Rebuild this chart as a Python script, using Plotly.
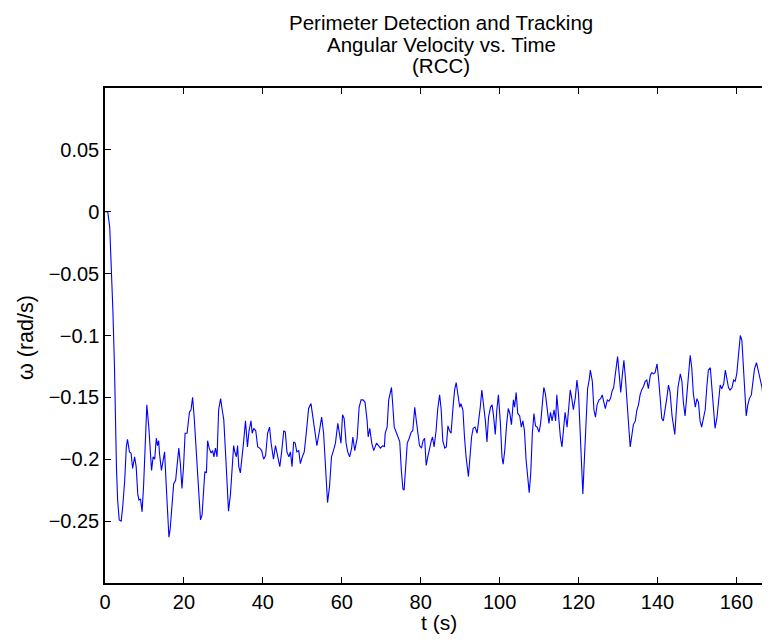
import plotly.graph_objects as go

# ---- data ----
t_s = [0.0, 0.7, 1.2, 1.6, 2.0, 2.4, 2.6, 2.9, 3.2, 3.6, 4.1, 4.5, 5.0, 5.4, 5.7, 6.2, 6.6, 7.0, 7.5, 7.9,
       8.3, 8.6, 9.0, 9.4, 9.8, 10.2, 10.6, 11.1, 11.5, 11.8, 12.2, 12.6, 13.0, 13.3, 13.6, 13.8, 14.3, 14.7, 15.1, 15.5,
       16.0, 16.2, 16.5, 17.0, 17.4, 17.9, 18.3, 18.7, 19.1, 19.5, 19.9, 20.3, 20.8, 21.0, 21.4, 21.8, 22.2, 22.6, 23.1, 23.5,
       23.8, 24.2, 24.6, 25.0, 25.3, 25.7, 26.0, 26.4, 26.9, 27.3, 27.6, 28.0, 28.4, 28.8, 29.3, 29.7, 30.1, 30.6, 31.0, 31.3,
       31.8, 32.2, 32.6, 32.9, 33.3, 33.6, 33.9, 34.3, 34.8, 35.1, 35.6, 36.1, 36.5, 37.0, 37.3, 37.7, 38.2, 38.7, 39.2, 39.7,
       40.2, 40.7, 41.2, 41.7, 42.1, 42.4, 42.7, 43.2, 43.8, 44.3, 44.8, 45.3, 45.7, 46.1, 46.6, 47.0, 47.4, 47.8, 48.2, 48.6,
       49.1, 49.5, 50.0, 50.5, 51.0, 51.6, 52.2, 52.7, 53.2, 53.7, 54.3, 54.9, 55.4, 55.9, 56.4, 56.9, 57.4, 57.9, 58.4, 59.0,
       59.5, 59.8, 60.2, 60.6, 61.1, 61.5, 62.0, 62.5, 62.8, 63.3, 63.9, 64.4, 64.9, 65.4, 65.9, 66.4, 66.7, 67.1, 67.6, 68.1,
       68.8, 69.3, 69.8, 70.4, 70.8, 71.0, 71.5, 71.9, 72.3, 72.6, 72.9, 73.3, 73.9, 74.3, 74.7, 75.1, 75.5, 75.8, 76.3, 76.6,
       77.1, 77.6, 78.0, 78.5, 78.9, 79.3, 79.7, 80.2, 80.6, 81.0, 81.4, 81.8, 82.3, 82.7, 83.0, 83.4, 83.9, 84.3, 84.8, 85.2,
       85.6, 86.1, 86.5, 86.9, 87.3, 87.7, 88.2, 88.6, 89.0, 89.4, 89.9, 90.2, 90.7, 91.1, 91.5, 92.1, 92.5, 92.9, 93.3, 93.8,
       94.3, 94.7, 95.1, 95.5, 95.9, 96.4, 96.8, 97.2, 97.7, 98.1, 98.5, 98.9, 99.3, 99.7, 100.2, 100.6, 100.9, 101.3, 101.8, 102.2,
       102.6, 103.0, 103.5, 103.8, 104.2, 104.6, 105.1, 105.5, 105.9, 106.3, 106.7, 107.2, 107.5, 107.9, 108.3, 108.7, 109.1, 109.5, 110.0, 110.4,
       110.8, 111.2, 111.6, 112.1, 112.5, 112.9, 113.3, 113.8, 114.2, 114.5, 114.9, 115.4, 115.8, 116.2, 116.6, 117.1, 117.5, 117.9, 118.3, 118.7,
       119.2, 119.6, 120.0, 120.4, 120.8, 121.1, 121.4, 121.9, 122.3, 122.7, 123.0, 123.5, 123.9, 124.3, 124.7, 125.2, 125.6, 126.0, 126.4, 126.8,
       127.3, 127.7, 128.1, 128.5, 128.9, 129.4, 129.9, 130.3, 130.7, 131.1, 131.5, 131.9, 132.3, 132.8, 133.1, 133.5, 133.9, 134.4, 134.8, 135.2,
       135.6, 136.0, 136.5, 136.9, 137.3, 137.7, 138.2, 138.6, 139.0, 139.4, 139.9, 140.3, 140.7, 141.1, 141.5, 142.0, 142.4, 142.8, 143.2, 143.7,
       144.1, 144.4, 144.8, 145.2, 145.8, 146.2, 146.6, 147.0, 147.4, 147.9, 148.3, 148.7, 149.1, 149.6, 150.0, 150.4, 150.8, 151.2, 151.7, 152.1,
       152.5, 152.9, 153.4, 153.8, 154.2, 154.6, 155.1, 155.5, 155.9, 156.3, 156.8, 157.2, 157.6, 158.0, 158.4, 158.9, 159.3, 159.7, 160.1, 160.6,
       161.0, 161.4, 161.8, 162.2, 162.5, 162.9, 163.3, 163.8, 164.2, 164.6, 165.1, 165.6, 166.0, 166.5, 166.8, 167.3, 167.7, 168.1, 168.5]

omega = [0.0, 0.0, -0.0126, -0.04, -0.08, -0.125, -0.166, -0.206, -0.233, -0.249, -0.25, -0.238, -0.217, -0.19, -0.184, -0.194, -0.195, -0.2075, -0.198, -0.206,
         -0.228, -0.233, -0.232, -0.2425, -0.22, -0.185, -0.156, -0.174, -0.201, -0.209, -0.198, -0.2, -0.183, -0.189, -0.185, -0.195, -0.209, -0.2, -0.194, -0.22,
         -0.256, -0.263, -0.257, -0.233, -0.22, -0.217, -0.206, -0.191, -0.2035, -0.2236, -0.206, -0.179, -0.179, -0.171, -0.162, -0.16, -0.15, -0.166, -0.19, -0.214,
         -0.23, -0.249, -0.245, -0.228, -0.21, -0.211, -0.185, -0.191, -0.195, -0.193, -0.198, -0.191, -0.198, -0.16, -0.151, -0.16, -0.168, -0.198, -0.225, -0.242,
         -0.228, -0.2035, -0.189, -0.194, -0.198, -0.189, -0.206, -0.211, -0.198, -0.187, -0.169, -0.19, -0.177, -0.169, -0.179, -0.175, -0.177, -0.19, -0.191, -0.193,
         -0.2, -0.197, -0.179, -0.174, -0.187, -0.194, -0.2, -0.189, -0.198, -0.206, -0.193, -0.177, -0.178, -0.194, -0.198, -0.194, -0.206, -0.186, -0.187, -0.194,
         -0.193, -0.2035, -0.198, -0.194, -0.179, -0.159, -0.155, -0.166, -0.177, -0.189, -0.178, -0.166, -0.179, -0.211, -0.235, -0.222, -0.198, -0.193, -0.187, -0.171,
         -0.183, -0.187, -0.164, -0.167, -0.187, -0.194, -0.198, -0.191, -0.182, -0.193, -0.183, -0.158, -0.152, -0.152, -0.154, -0.168, -0.182, -0.175, -0.187, -0.193,
         -0.187, -0.189, -0.191, -0.189, -0.19, -0.179, -0.174, -0.152, -0.146, -0.142, -0.155, -0.174, -0.179, -0.182, -0.186, -0.209, -0.224, -0.225, -0.2, -0.187,
         -0.183, -0.178, -0.177, -0.158, -0.169, -0.179, -0.189, -0.191, -0.185, -0.183, -0.205, -0.198, -0.19, -0.185, -0.182, -0.19, -0.177, -0.16, -0.148, -0.16,
         -0.185, -0.191, -0.19, -0.173, -0.177, -0.179, -0.158, -0.144, -0.138, -0.146, -0.158, -0.155, -0.16, -0.182, -0.198, -0.214, -0.2, -0.182, -0.175, -0.174,
         -0.179, -0.169, -0.158, -0.144, -0.154, -0.169, -0.186, -0.166, -0.158, -0.156, -0.166, -0.18, -0.16, -0.148, -0.171, -0.198, -0.204, -0.193, -0.171, -0.159,
         -0.163, -0.172, -0.152, -0.158, -0.146, -0.163, -0.165, -0.174, -0.169, -0.177, -0.2, -0.222, -0.227, -0.211, -0.179, -0.163, -0.173, -0.174, -0.178, -0.171,
         -0.155, -0.142, -0.147, -0.16, -0.171, -0.162, -0.169, -0.16, -0.169, -0.148, -0.165, -0.182, -0.19, -0.177, -0.162, -0.174, -0.158, -0.144, -0.151, -0.16,
         -0.15, -0.136, -0.147, -0.179, -0.214, -0.228, -0.206, -0.163, -0.143, -0.136, -0.128, -0.137, -0.16, -0.166, -0.156, -0.152, -0.151, -0.148, -0.153, -0.159,
         -0.152, -0.153, -0.151, -0.145, -0.142, -0.131, -0.117, -0.131, -0.146, -0.132, -0.12, -0.135, -0.158, -0.177, -0.19, -0.18, -0.172, -0.169, -0.16, -0.156,
         -0.148, -0.144, -0.141, -0.137, -0.136, -0.143, -0.132, -0.13, -0.131, -0.13, -0.123, -0.135, -0.155, -0.167, -0.169, -0.16, -0.15, -0.14, -0.146, -0.165,
         -0.175, -0.18, -0.16, -0.142, -0.131, -0.137, -0.155, -0.165, -0.15, -0.131, -0.116, -0.126, -0.147, -0.158, -0.151, -0.154, -0.169, -0.174, -0.166, -0.16,
         -0.142, -0.128, -0.126, -0.142, -0.163, -0.175, -0.166, -0.151, -0.14, -0.143, -0.139, -0.128, -0.134, -0.142, -0.144, -0.142, -0.136, -0.137, -0.131, -0.112,
         -0.1, -0.104, -0.128, -0.155, -0.165, -0.156, -0.151, -0.148, -0.137, -0.127, -0.122, -0.13, -0.134, -0.142, -0.151, -0.156, -0.159, -0.152, -0.14]

x_ticks = [0, 20, 40, 60, 80, 100, 120, 140, 160]
x_tick_labels = ["0", "20", "40", "60", "80", "100", "120", "140", "160"]
y_ticks = [-0.25, -0.2, -0.15, -0.1, -0.05, 0, 0.05]
y_tick_labels = ["\u22120.25", "\u22120.2", "\u22120.15", "\u22120.1", "\u22120.05", "0", "0.05"]

title_lines = ["Perimeter Detection and Tracking", "Angular Velocity vs. Time", "(RCC)"]
x_label = "t (s)"
y_label = "\u03c9 (rad/s)"

# ---- figure ----
FONT = "Liberation Sans, Arial, Helvetica, sans-serif"
OFF = 8                       # page body margin in the browser
W, H = 770 - OFF, 641 - OFF   # figure size so it fills the window
# target pixel positions in the window
LEFT, TOP, BOTTOM, RIGHT = 105, 88, 583, 770
ML, MT = LEFT - OFF, TOP - OFF
MB = H - (BOTTOM - OFF)
MR = W - (RIGHT - OFF)
PH = H - MT - MB
PW = W - ML - MR

fig = go.Figure()
fig.add_trace(go.Scatter(x=t_s, y=omega, mode="lines",
                         line=dict(color="#0000ff", width=1.1),
                         showlegend=False, hoverinfo="skip"))
# empty trace to carry the right-side tick axis
fig.add_trace(go.Scatter(x=[], y=[], yaxis="y2", showlegend=False, hoverinfo="skip"))

def ypaper(pix):
    return (BOTTOM - pix) / PH

def xpaper(pix):
    return (pix - LEFT) / PW

annotations = []
for line, ypix in zip(title_lines, [22.5, 44.0, 65.5]):
    annotations.append(dict(text=line, x=xpaper(441), y=ypaper(ypix), xref="paper", yref="paper",
                            xanchor="center", yanchor="middle", showarrow=False,
                            font=dict(family=FONT, size=20.5, color="black")))
annotations.append(dict(text=x_label, x=xpaper(439), y=ypaper(622), xref="paper", yref="paper",
                        xanchor="center", yanchor="middle", showarrow=False,
                        font=dict(family=FONT, size=21, color="black")))
annotations.append(dict(text=y_label, x=xpaper(26), y=ypaper(338), xref="paper", yref="paper",
                        xanchor="center", yanchor="middle", showarrow=False, textangle=-90,
                        font=dict(family=FONT, size=21.5, color="black")))

fig.update_layout(
    width=W, height=H,
    margin=dict(l=ML, r=MR, t=MT, b=MB, pad=0),
    paper_bgcolor="white", plot_bgcolor="white",
    font=dict(family=FONT, size=20, color="black"),
    annotations=annotations,
    xaxis=dict(range=[0, PW / 3.946], tickmode="array", tickvals=x_ticks, ticktext=x_tick_labels,
               ticks="inside", ticklen=6, tickwidth=1, tickcolor="black",
               showline=True, linecolor="black", linewidth=1.5, mirror="ticks",
               showgrid=False, zeroline=False, tickfont=dict(family=FONT, size=20, color="black")),
    yaxis=dict(range=[-0.3, 0.1], tickmode="array", tickvals=y_ticks, ticktext=y_tick_labels,
               ticks="inside", ticklen=6, tickwidth=1, tickcolor="black",
               showline=True, linecolor="black", linewidth=1.5,
               showgrid=False, zeroline=False, tickfont=dict(family=FONT, size=20, color="black")),
    yaxis2=dict(range=[-0.3, 0.1], overlaying="y", side="right", tickmode="array", tickvals=y_ticks,
                showticklabels=False, ticks="inside", ticklen=6, tickwidth=1, tickcolor="black",
                showline=False, showgrid=False, zeroline=False),
)

fig.write_html("out.html")
